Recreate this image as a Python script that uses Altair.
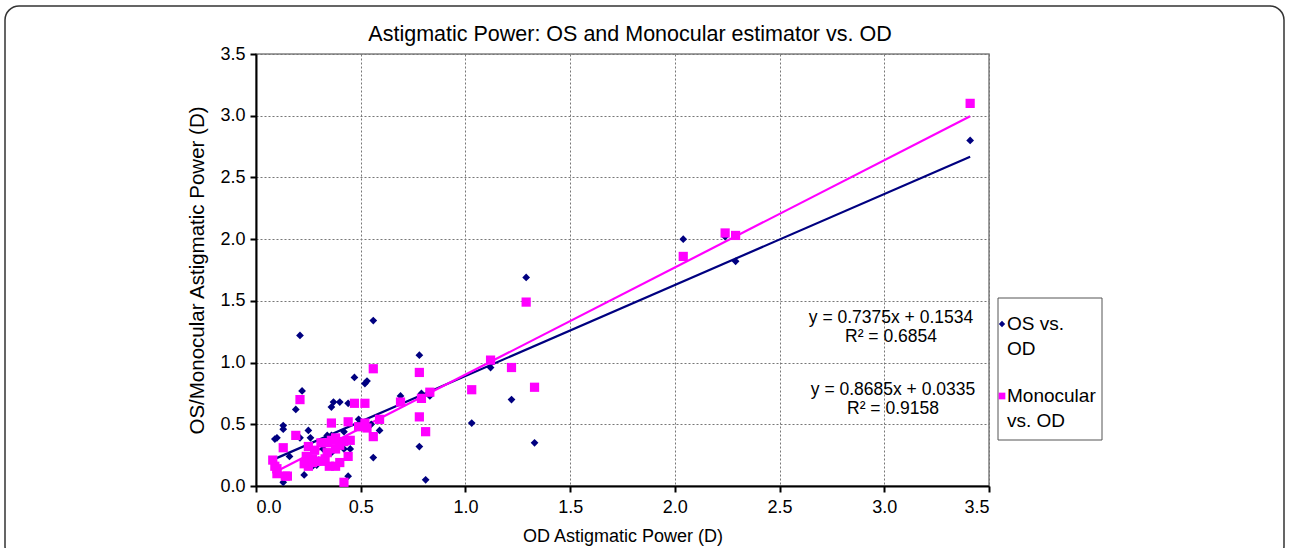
import altair as alt
import pandas as pd

# ---- data ----
os_x = [0.09, 0.10, 0.13, 0.13, 0.13, 0.16, 0.19, 0.21, 0.21, 0.22, 0.23, 0.25, 0.26, 0.27,
        0.29, 0.30, 0.32, 0.34, 0.34, 0.36, 0.36, 0.36, 0.36, 0.37, 0.40, 0.42, 0.42, 0.44,
        0.44, 0.45, 0.47, 0.49, 0.50, 0.52, 0.53, 0.55, 0.56, 0.56, 0.59, 0.69, 0.78, 0.78,
        0.79, 0.81, 0.83, 1.03, 1.12, 1.22, 1.29, 1.33, 2.04, 2.24, 2.29, 3.41]
os_y = [0.38, 0.39, 0.49, 0.46, 0.03, 0.24, 0.62, 0.39, 1.22, 0.77, 0.09, 0.45, 0.39, 0.16,
        0.17, 0.21, 0.30, 0.41, 0.18, 0.41, 0.27, 0.16, 0.64, 0.68, 0.68, 0.44, 0.30, 0.67,
        0.08, 0.30, 0.88, 0.54, 0.50, 0.83, 0.85, 0.50, 1.34, 0.23, 0.45, 0.73, 1.06, 0.32,
        0.75, 0.05, 0.73, 0.51, 0.96, 0.70, 1.69, 0.35, 2.00, 2.02, 1.82, 2.80]

mono_x = [0.08, 0.09, 0.10, 0.10, 0.13, 0.14, 0.15, 0.19, 0.21, 0.23, 0.24, 0.25, 0.25, 0.27,
          0.27, 0.28, 0.29, 0.31, 0.31, 0.33, 0.34, 0.34, 0.35, 0.36, 0.36, 0.38, 0.38, 0.38,
          0.40, 0.40, 0.42, 0.42, 0.44, 0.44, 0.45, 0.47, 0.49, 0.52, 0.52, 0.53, 0.56, 0.56,
          0.59, 0.69, 0.78, 0.78, 0.79, 0.81, 0.83, 1.03, 1.12, 1.22, 1.29, 1.33, 2.04, 2.24,
          2.29, 3.41]
mono_y = [0.21, 0.16, 0.10, 0.14, 0.31, 0.08, 0.08, 0.41, 0.70, 0.18, 0.24, 0.32, 0.16, 0.22,
          0.19, 0.29, 0.20, 0.20, 0.35, 0.22, 0.35, 0.27, 0.16, 0.37, 0.51, 0.16, 0.39, 0.30,
          0.19, 0.33, 0.36, 0.03, 0.24, 0.52, 0.37, 0.67, 0.48, 0.51, 0.67, 0.47, 0.40, 0.95,
          0.54, 0.68, 0.92, 0.56, 0.71, 0.44, 0.76, 0.78, 1.02, 0.96, 1.49, 0.80, 1.86, 2.05,
          2.03, 3.10]

series_names = ["OS vs. OD", "Monocular vs. OD"]
series_colors = ["#000080", "#FF00FF"]
series_shapes = ["diamond", "square"]
slopes = [0.7375, 0.8685]
intercepts = [0.1534, 0.0335]
r2 = [0.6854, 0.9158]

x_ticks = [0.0, 0.5, 1.0, 1.5, 2.0, 2.5, 3.0, 3.5]
y_ticks = [0.0, 0.5, 1.0, 1.5, 2.0, 2.5, 3.0, 3.5]

TITLE = "Astigmatic Power: OS and Monocular estimator vs. OD"
FONT = "Liberation Sans"
W, H = 733, 432
PAD_L, PAD_T = 256, 54

pts = pd.concat([
    pd.DataFrame({"x": os_x, "y": os_y, "s": series_names[0]}),
    pd.DataFrame({"x": mono_x, "y": mono_y, "s": series_names[1]}),
])

xs_all = [os_x, mono_x]
lines = pd.DataFrame([
    {"s": series_names[i], "x": v, "y": slopes[i] * v + intercepts[i], "k": j}
    for i in range(2) for j, v in enumerate([min(xs_all[i]), max(xs_all[i])])
])

xsc = alt.Scale(domain=[0, 3.5], nice=False, zero=False)
ysc = alt.Scale(domain=[0, 3.5], nice=False, zero=False)
col = alt.Scale(domain=series_names, range=series_colors)
shp = alt.Scale(domain=series_names, range=series_shapes)

xax = alt.Axis(values=x_ticks, format=".1f", title="OD Astigmatic Power (D)",
               titlePadding=11, labelPadding=6, titleFontSize=18)
yax = alt.Axis(values=y_ticks, format=".1f", title="OS/Monocular Astigmatic Power (D)",
               titlePadding=12, labelPadding=5, titleFontSize=20.5)

one = pd.DataFrame({"a": [0]})

frame = alt.Chart(one).mark_rect(
    fill=None, stroke="#333333", strokeWidth=1.5, cornerRadius=14
).encode(x=alt.value(-PAD_L + 5), x2=alt.value(1284 - PAD_L),
         y=alt.value(-PAD_T + 6), y2=alt.value(560 - PAD_T))

title_layer = alt.Chart(pd.DataFrame({"t": [TITLE]})).mark_text(
    font=FONT, fontSize=21.5, align="center", baseline="alphabetic", color="black"
).encode(text="t:N", x=alt.value(630 - PAD_L), y=alt.value(41 - PAD_T))

line_layer = alt.Chart(lines).mark_line(strokeWidth=2.2).encode(
    x=alt.X("x:Q", scale=xsc, axis=xax),
    y=alt.Y("y:Q", scale=ysc, axis=yax),
    color=alt.Color("s:N", scale=col, legend=None),
    detail="s:N",
)

point_layer = alt.Chart(pts).mark_point(filled=True, opacity=1).encode(
    x=alt.X("x:Q", scale=xsc),
    y=alt.Y("y:Q", scale=ysc),
    color=alt.Color("s:N", scale=col, legend=None),
    shape=alt.Shape("s:N", scale=shp, legend=None),
    size=alt.Size("s:N", scale=alt.Scale(domain=series_names, range=[60, 85]), legend=None),
)

eq_text = [
    [f"y = {slopes[0]:.4f}x + {intercepts[0]:.4f}", f"R² = {r2[0]:.4f}"],
    [f"y = {slopes[1]:.4f}x + {intercepts[1]:.4f}", f"R² = {r2[1]:.4f}"],
]
eq1 = alt.Chart(pd.DataFrame({"t": [eq_text[0]]})).mark_text(
    font=FONT, fontSize=17.5, align="center", baseline="middle", lineHeight=19, color="black"
).encode(text="t:N", x=alt.value(891 - PAD_L), y=alt.value(318 - PAD_T))
eq2 = alt.Chart(pd.DataFrame({"t": [eq_text[1]]})).mark_text(
    font=FONT, fontSize=17.5, align="center", baseline="middle", lineHeight=19, color="black"
).encode(text="t:N", x=alt.value(893 - PAD_L), y=alt.value(390 - PAD_T))

# manual legend box
leg_box = alt.Chart(one).mark_rect(
    fill="white", stroke="#555555", strokeWidth=1
).encode(x=alt.value(998 - PAD_L), x2=alt.value(1102 - PAD_L),
         y=alt.value(298 - PAD_T), y2=alt.value(440 - PAD_T))
leg_sym1 = alt.Chart(one).mark_point(
    filled=True, shape="diamond", size=40, color=series_colors[0], opacity=1
).encode(x=alt.value(1002 - PAD_L), y=alt.value(324 - PAD_T))
leg_sym2 = alt.Chart(one).mark_point(
    filled=True, shape="square", size=45, color=series_colors[1], opacity=1
).encode(x=alt.value(1002 - PAD_L), y=alt.value(396 - PAD_T))
leg_t1 = alt.Chart(pd.DataFrame({"t": [["OS vs.", "OD"]]})).mark_text(
    font=FONT, fontSize=19, align="left", baseline="middle", lineHeight=25, color="black"
).encode(text="t:N", x=alt.value(1007 - PAD_L), y=alt.value(324 - PAD_T))
leg_t2 = alt.Chart(pd.DataFrame({"t": [["Monocular", "vs. OD"]]})).mark_text(
    font=FONT, fontSize=19, align="left", baseline="middle", lineHeight=25, color="black"
).encode(text="t:N", x=alt.value(1007 - PAD_L), y=alt.value(396 - PAD_T))

chart = alt.layer(
    frame, title_layer, line_layer, point_layer, eq1, eq2,
    leg_box, leg_sym1, leg_sym2, leg_t1, leg_t2
).properties(
    width=W, height=H,
    background="white",
    autosize=alt.AutoSizeParams(type="none"),
    padding={"left": PAD_L, "top": PAD_T, "right": 1289 - PAD_L - W, "bottom": 548 - PAD_T - H},
).configure_view(
    stroke="#808080", strokeWidth=1.5
).configure_axis(
    labelFont=FONT, labelFontSize=18, labelColor="black",
    titleFont=FONT, titleFontWeight="normal", titleColor="black",
    domainColor="black", domainWidth=2, tickColor="black", tickWidth=2, tickSize=6,
    gridColor="#777777", gridDash=[2, 2], gridWidth=1,
)

chart.save("out.html", embed_options={"renderer": "svg", "actions": False})
